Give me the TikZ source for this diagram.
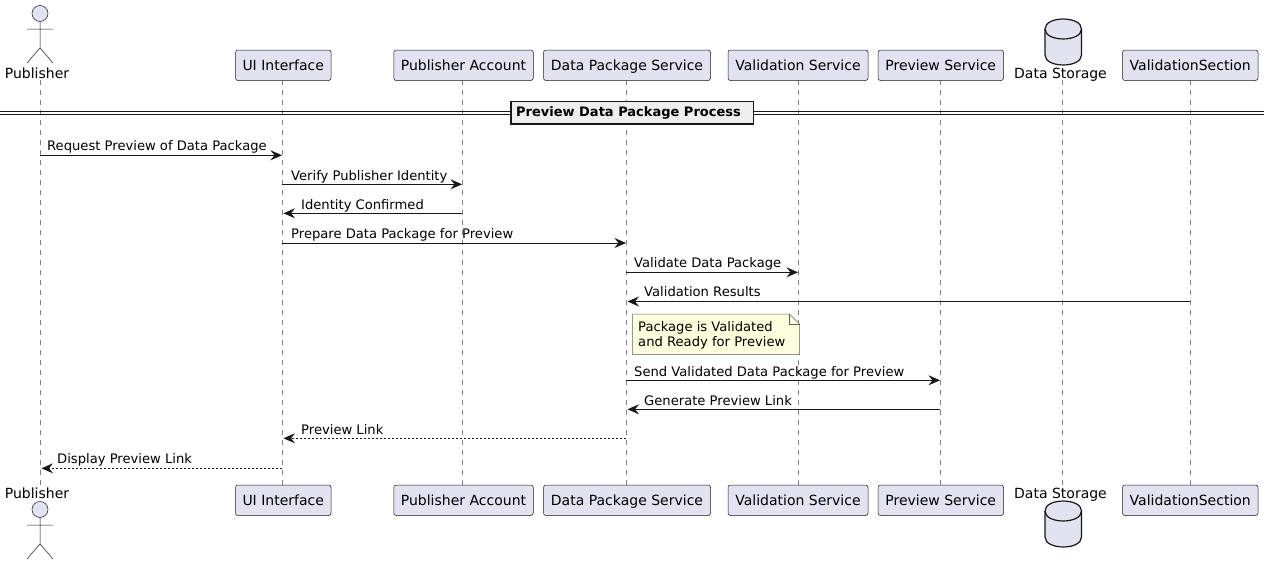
\documentclass[tikz,border=0pt]{standalone}
\usepackage{fontspec}
\setmainfont{DejaVu Sans}
\usetikzlibrary{arrows.meta}
\definecolor{partfill}{HTML}{E2E2F0}
\definecolor{partline}{HTML}{181818}
\definecolor{notefill}{HTML}{FEFFDD}
\definecolor{dividerfill}{HTML}{EEEEEE}
\tikzset{
  part/.style={draw=partline,fill=partfill,line width=0.5pt,rounded corners=2.5pt,minimum height=30.5pt,inner sep=0pt,text height=11pt,text depth=1.5pt,font=\fontsize{14}{16}\selectfont},
  partlabel/.style={inner sep=0pt,anchor=base,font=\fontsize{14}{16}\selectfont},
  msglabel/.style={inner sep=0pt,anchor=base west,font=\fontsize{13.13}{15}\selectfont},
  lifeline/.style={draw=partline!55,line width=0.5pt,dash pattern=on 5pt off 5pt},
  msg/.style={draw=partline,line width=1pt,-{Stealth[length=11.5pt,width=10pt,inset=4pt]}},
  back/.style={msg,shorten >=1.5pt},
  reply/.style={back,dash pattern=on 2pt off 2pt},
  figure/.style={draw=partline,line width=0.5pt,fill=partfill}
}
\begin{document}
\begin{tikzpicture}[x=1pt,y=-1pt]
        \useasboundingbox (0,0) rectangle (1269,565);
        % Lifelines
        \foreach \name/\x in {pub/40,ui/282,acc/462,pkg/626,val/798,prev/940,store/1062,sect/1190}{
        \coordinate (\name) at (\x,80);
        \coordinate (\name Low) at (\x,485);
        \draw[lifeline] (\name) -- (\name Low);
        }

        % Participants, top and bottom
        \foreach \suffix/\y in {Top/65.25,Bottom/500.25}{
        \node[part,minimum width=95.5pt] (ui\suffix) at (283.25,\y) {UI Interface};
        \node[part,minimum width=139.5pt] (acc\suffix) at (463.5,\y) {Publisher Account};
        \node[part,minimum width=167pt] (pkg\suffix) at (627,\y) {Data Package Service};
        \node[part,minimum width=140pt] (val\suffix) at (798,\y) {Validation Service};
        \node[part,minimum width=125.5pt] (prev\suffix) at (940.75,\y) {Preview Service};
        \node[part,minimum width=135.5pt] (sect\suffix) at (1190.25,\y) {ValidationSection};
        }
        \node[partlabel] (pubTop) at (37,78) {Publisher};
        \node[partlabel] (pubBottom) at (37,498) {Publisher};
        \node[partlabel] (storeTop) at (1060.5,78) {Data Storage};
        \node[partlabel] (storeBottom) at (1060.5,498) {Data Storage};

        % Actor
        \foreach \y in {0,496}{
        \begin{scope}[yshift=-\y pt]
        \draw[figure] (40,13.5) circle (8);
        \draw[partline,line width=0.5pt] (40,21.5) -- (40,48) (27,29) -- (53,29) (27,63) -- (40,48) -- (53,63);
        \end{scope}
        }

        % Database
        \foreach \y in {0,482}{
        \begin{scope}[yshift=-\y pt]
        \draw[figure,line width=1.2pt] (1045,29) .. controls (1045,15.7) and (1081.5,15.7) .. (1081.5,29)
        -- (1081.5,55) .. controls (1081.5,68.3) and (1045,68.3) .. (1045,55) -- cycle;
        \draw[partline,line width=1.2pt] (1045,29) .. controls (1045,42.3) and (1081.5,42.3) .. (1081.5,29);
        \end{scope}
        }

        % Divider
        \draw[partline,line width=1pt] (0,111.5) -- (1264,111.5) (0,114.5) -- (1264,114.5);
        \node[draw=partline,fill=dividerfill,line width=1.5pt,minimum width=242.5pt,minimum height=22.5pt,inner sep=0pt,text height=10pt,text depth=1.5pt,font=\bfseries\fontsize{13}{15}\selectfont] (divider) at (632,112.7) {Preview Data Package Process\kern7pt};

        % Messages
        \foreach \from/\to/\y/\ly/\lx/\kind/\txt in {
        pub/ui/155.3/150.3/47/msg/Request Preview of Data Package,
        ui/acc/184.3/180/291/msg/Verify Publisher Identity,
        acc/ui/213.3/209/301/back/Identity Confirmed,
        ui/pkg/243/238/291/msg/Prepare Data Package for Preview,
        pkg/val/272.3/267.3/634/msg/Validate Data Package,
        sect/pkg/301.5/296.5/644/back/Validation Results,
        pkg/prev/380.3/376/634/msg/Send Validated Data Package for Preview,
        prev/pkg/409.3/405/644/back/Generate Preview Link,
        pkg/ui/438.3/434/301/reply/Preview Link,
        ui/pub/468.3/463.3/57/reply/Display Preview Link}{
        \draw[\kind] (\from |- 0,\y) -- (\to |- 0,\y);
        \node[msglabel] (label\lx) at (\lx,\ly) {\txt};
        }

        % Note
        \draw[draw=partline!70,fill=notefill,line width=0.5pt] (632.5,314) -- (789.5,314) -- (799.5,324) -- (799.5,354.5) -- (632.5,354.5) -- cycle;
        \draw[draw=partline!70,line width=0.5pt] (789.5,314) -- (789.5,324) -- (799.5,324);
        \node[msglabel] (noteA) at (638,331) {Package is Validated};
        \node[msglabel] (noteB) at (638,346) {and Ready for Preview};
        \end{tikzpicture}
\end{document}
